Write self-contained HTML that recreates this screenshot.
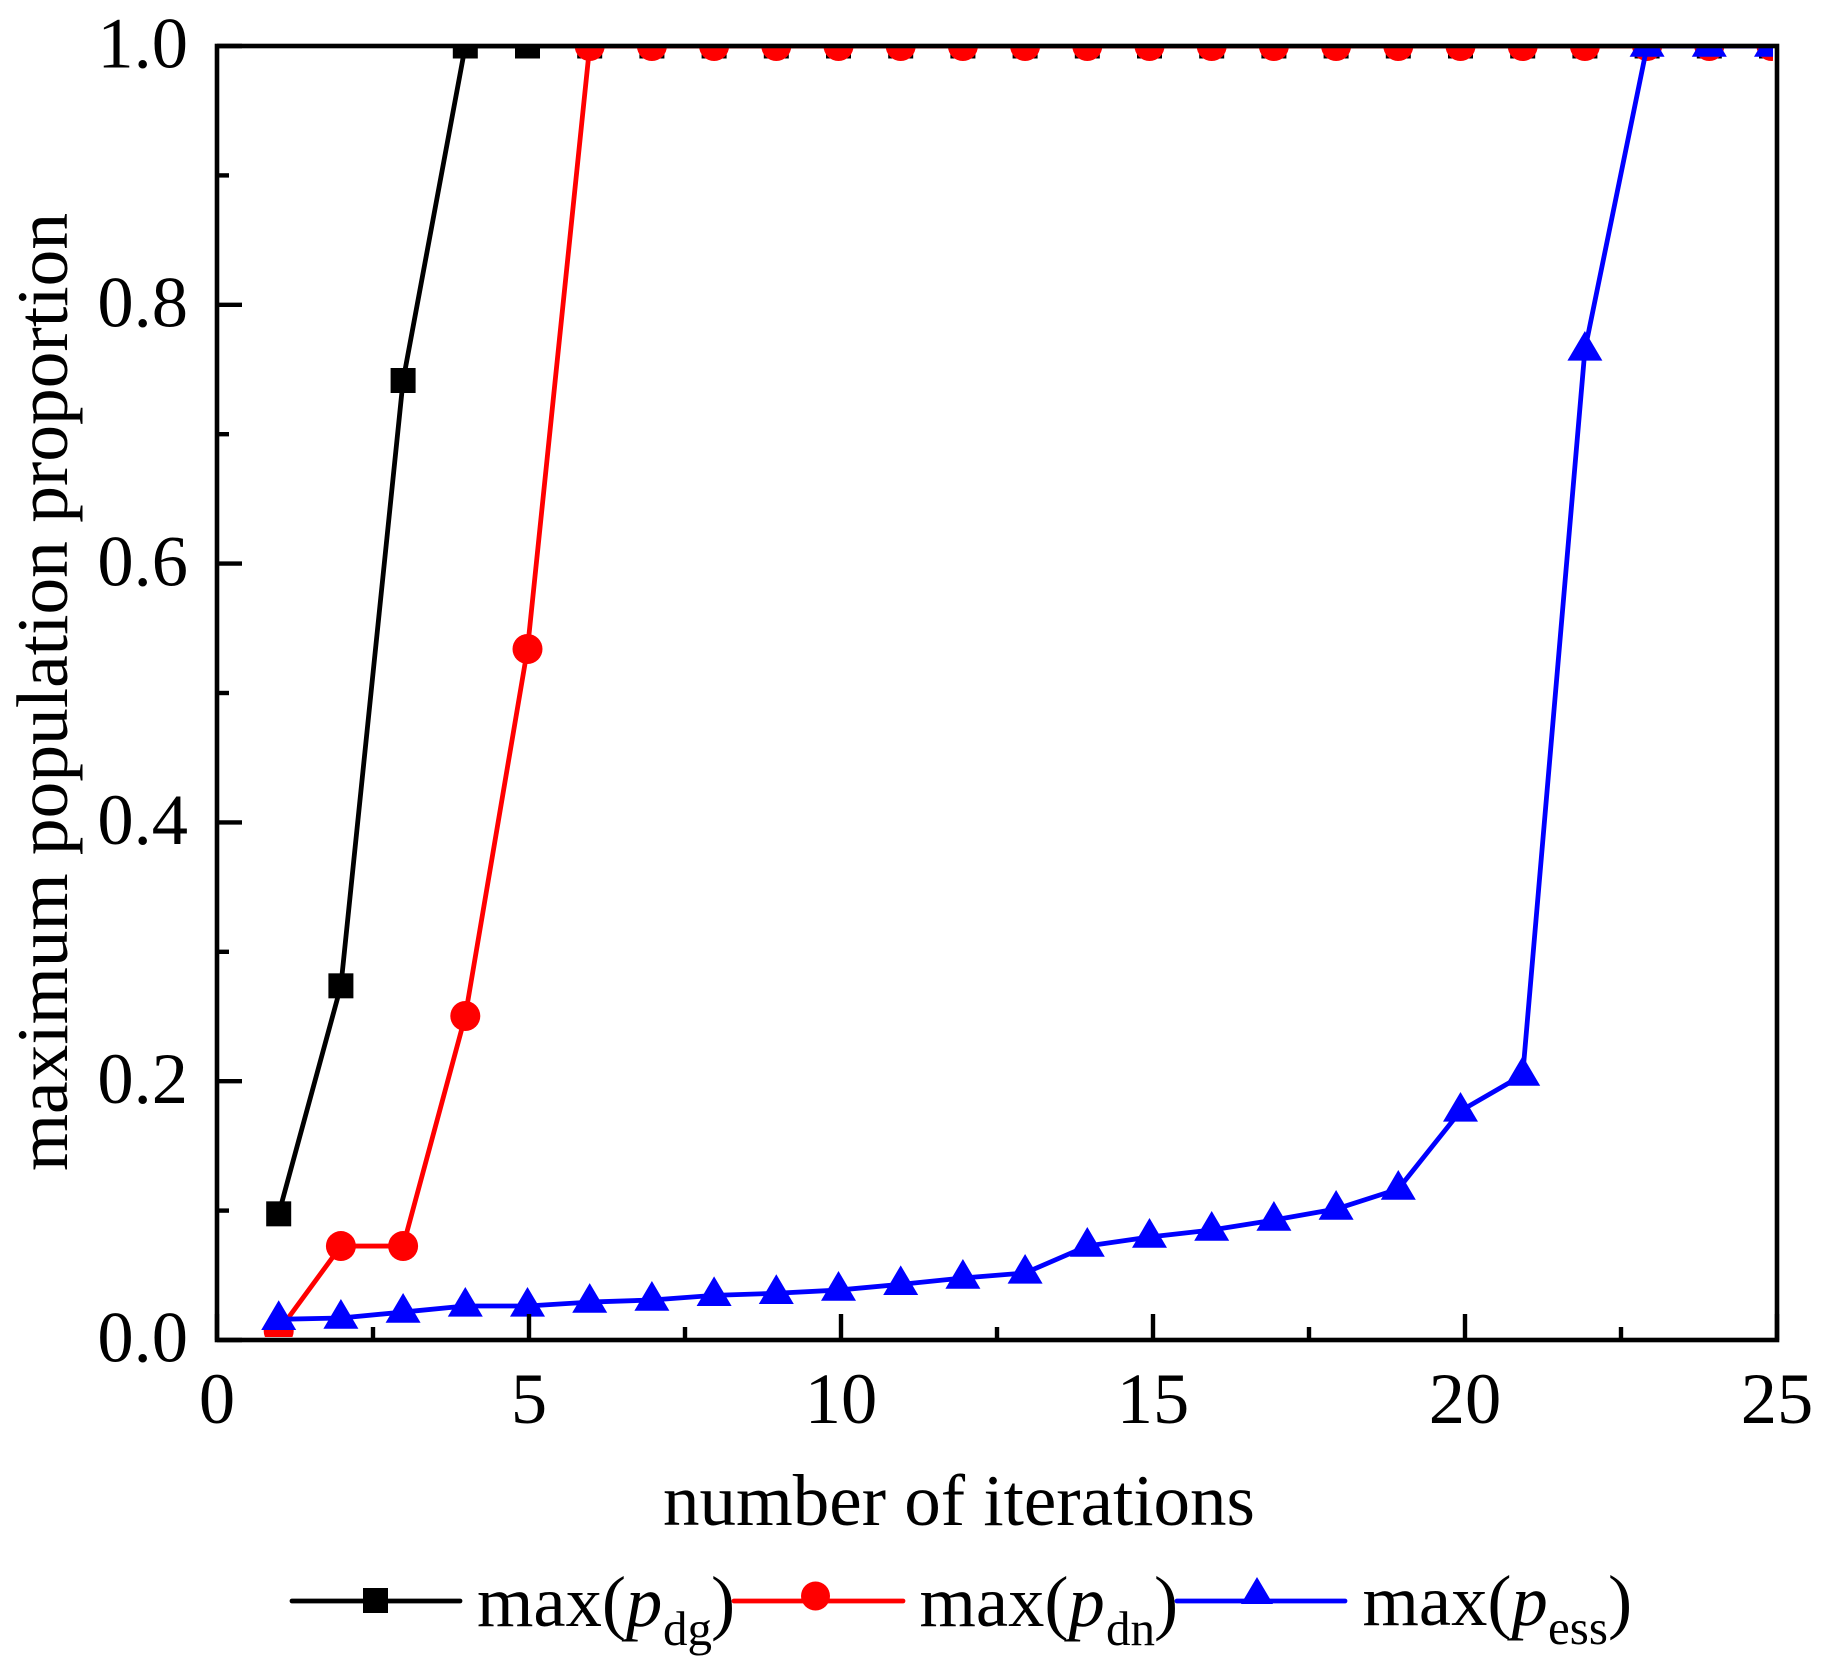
<!DOCTYPE html>
<html lang="en">
<head>
<meta charset="utf-8">
<title>Maximum population proportion vs number of iterations</title>
<style>
  html, body { margin: 0; padding: 0; background: #fff; }
  svg { display: block; }
  text { font-family: "Liberation Serif", serif; fill: #000; }
</style>
</head>
<body>
<svg id="chart" xmlns="http://www.w3.org/2000/svg" width="1824" height="1678" viewBox="0 0 1824 1678">
  <defs>
    <clipPath id="plot-clip"><rect x="217" y="46" width="1556" height="1291"/></clipPath>
  </defs>
  <rect x="0" y="0" width="1824" height="1678" fill="#fff"/>
  <g id="series-layer" clip-path="url(#plot-clip)"></g>
  <g id="axis-layer"></g>
  <rect x="217" y="46" width="1560" height="1294" fill="none" stroke="#000" stroke-width="4.6"/>
  <text x="959" y="1525" font-size="73" text-anchor="middle">number of iterations</text>
  <text transform="translate(67 692) rotate(-90)" font-size="73.4" text-anchor="middle">maximum population proportion</text>

  <g>
    <g>
      <line x1="292" y1="1601" x2="460" y2="1601" stroke="#000" stroke-width="4.8" stroke-linecap="round"/>
      <rect x="363" y="1588" width="25" height="25" fill="#000"/>
      <text x="477" y="1626" font-size="72.5">max(<tspan font-style="italic">p</tspan><tspan x="663" y="1645" font-size="49">dg</tspan><tspan x="711" y="1626">)</tspan></text>
    </g>
    <g>
      <line x1="734" y1="1601" x2="903" y2="1601" stroke="#f00" stroke-width="4.8" stroke-linecap="round"/>
      <circle cx="815.5" cy="1596" r="14.5" fill="#f00"/>
      <text x="919.5" y="1626" font-size="72.5">max(<tspan font-style="italic">p</tspan><tspan x="1106" y="1645" font-size="49">dn</tspan><tspan x="1154" y="1626">)</tspan></text>
    </g>
    <g>
      <line x1="1177" y1="1601" x2="1345" y2="1601" stroke="#00f" stroke-width="4.8" stroke-linecap="round"/>
      <polygon points="1257,1577 1273,1604 1241,1604" fill="#00f"/>
      <text x="1362.5" y="1625" font-size="72.5">max(<tspan font-style="italic">p</tspan><tspan x="1548" y="1644" font-size="49">ess</tspan><tspan x="1608" y="1625">)</tspan></text>
    </g>
  </g>
</svg>
<script>
const iterations = [1,2,3,4,5,6,7,8,9,10,11,12,13,14,15,16,17,18,19,20,21,22,23,24,25];
const maxPdg = [0.0975,0.2737,0.7415,1,1,1,1,1,1,1,1,1,1,1,1,1,1,1,1,1,1,1,1,1,1];
const maxPdn = [0.007,0.0726,0.0726,0.2504,0.534,1,1,1,1,1,1,1,1,1,1,1,1,1,1,1,1,1,1,1,1];
const maxPess = [0.016,0.017,0.0216,0.0263,0.0263,0.0293,0.0309,0.0345,0.0361,0.0386,0.043,0.0479,0.0518,0.0726,0.0796,0.085,0.0927,0.1012,0.1167,0.177,0.2048,0.7651,1,1,1];
const xMajorTicks = [0,5,10,15,20,25];
const xMinorTicks = [2.5,7.5,12.5,17.5,22.5];
const yMajorTicks = [0,0.2,0.4,0.6,0.8,1];
const yMinorTicks = [0.1,0.3,0.5,0.7,0.9];
const xTickLabels = ['0','5','10','15','20','25'];
const yTickLabels = ['0.0','0.2','0.4','0.6','0.8','1.0'];

const NS = 'http://www.w3.org/2000/svg';
const seriesLayer = document.getElementById('series-layer');
const axisLayer = document.getElementById('axis-layer');

// Axis functions
function xTick(v) { return 217 + 62.4 * v; }
function xMark(v) { return 216.5 + 62.2 * v; }
function yPos(v) { return 1340 - 1294 * v; }

function make(tag, attrs, parent) {
  const el = document.createElementNS(NS, tag);
  for (const k in attrs) el.setAttribute(k, attrs[k]);
  parent.appendChild(el);
  return el;
}

function drawSeries(name, values, color, markerKind) {
  const group = make('g', {}, seriesLayer);
  
  
  const pts = iterations.map(function (it, i) { return xMark(it) + ',' + yPos(values[i]); }).join(' ');
  const line = make('polyline', { points: pts, fill: 'none', stroke: color, 'stroke-width': 4.8, 'stroke-linejoin': 'round' }, group);
  
  
  iterations.forEach(function (it, i) {
    const cx = xMark(it);
    const cy = yPos(values[i]);
    let m;
    if (markerKind === 'square') {
      m = make('rect', { x: cx - 12.5, y: cy - 12.5, width: 25, height: 25, fill: color }, group);
    } else if (markerKind === 'circle') {
      m = make('circle', { cx: cx, cy: cy, r: 15, fill: color }, group);
    } else {
      m = make('polygon', { points: cx + ',' + (cy - 19) + ' ' + (cx + 17.5) + ',' + (cy + 10.7) + ' ' + (cx - 17.5) + ',' + (cy + 10.7), fill: color }, group);
    }
    
    
  });
}

drawSeries('dg', maxPdg, '#000', 'square');
drawSeries('dn', maxPdn, '#f00', 'circle');
drawSeries('ess', maxPess, '#00f', 'triangle');

function drawTick(isX, v, len, name) {
  const p = isX ? xTick(v) : yPos(v);
  const attrs = isX
    ? { x1: p, y1: 1340, x2: p, y2: 1340 - len }
    : { x1: 217, y1: p, x2: 217 + len, y2: p };
  attrs.stroke = '#000';
  attrs['stroke-width'] = 4.4;
  const t = make('line', attrs, axisLayer);
  
  
}

xMajorTicks.forEach(function (v, i) {
  drawTick(true, v, 26, 'x-major-tick-' + v);
  const t = make('text', { x: xTick(v), y: 1423, 'font-size': 72.5, 'text-anchor': 'middle' }, axisLayer);
  
  
  t.textContent = xTickLabels[i];
});
xMinorTicks.forEach(function (v) {
  drawTick(true, v, 13, 'x-minor-tick-' + v);
});
yMajorTicks.forEach(function (v, i) {
  drawTick(false, v, 25, 'y-major-tick-' + v);
  const t = make('text', { x: 188, y: yPos(v) + 21.7, 'font-size': 72.5, 'text-anchor': 'end' }, axisLayer);
  
  
  t.textContent = yTickLabels[i];
});
yMinorTicks.forEach(function (v) {
  drawTick(false, v, 12, 'y-minor-tick-' + v);
});
</script>
</body>
</html>
